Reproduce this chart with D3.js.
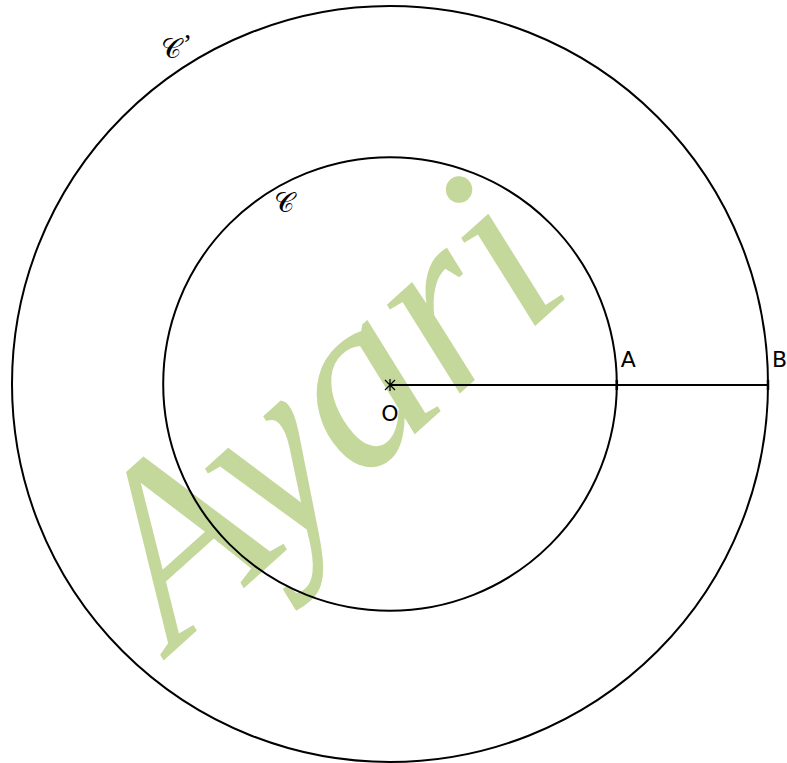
<!DOCTYPE html>
<html>
<head>
<meta charset="utf-8">
<script src="https://cdn.jsdelivr.net/npm/d3@7"></script>
<style>
  body { margin: 0; background: #fff; }
</style>
</head>
<body>
<div id="chart"></div>
<script>
// circles (radius in cm), points on the ray [OB)
var circleNames = ["\u{1D49E}", "\u{1D49E}"];
var circlePrimes = ["", "\u2019"];
var circleRadii = [3, 5];
var labelAngles = [120.2, 123.1];   // degrees, where each circle name sits
var labelRadii = [2.79, 5.31];
var pointNames = ["O", "A", "B"];
var pointPos = [0, 3, 5];

var w = 787,
    h = 763,
    cx = 390,
    cy = 384;

var svg = d3.select("#chart")
  .append("svg")
  .attr("width", w)
  .attr("height", h);

// one unit = one cm on the figure
var r = d3.scaleLinear()
  .domain([0, 5])
  .range([0, 378]);

// watermark
svg.append("text")
  .attr("transform", "translate(375,470) rotate(-42)")
  .attr("text-anchor", "middle")
  .style("font-family", "Liberation Serif")
  .style("font-style", "italic")
  .style("font-size", "250px")
  .style("fill", "#c5d89b")
  .text("Ayari");

var g = svg.append("g")
  .attr("transform", "translate(" + cx + "," + cy + ")");

g.selectAll("circle")
  .data(circleRadii)
  .enter()
  .append("circle")
  .attr("r", function(d) { return r(d); })
  .attr("fill", "none")
  .attr("stroke", "#000")
  .attr("stroke-width", 2);

function lx(i) { return r(labelRadii[i]) * Math.cos(labelAngles[i] * Math.PI / 180); }
function ly(i) { return -r(labelRadii[i]) * Math.sin(labelAngles[i] * Math.PI / 180); }

g.selectAll(".cname")
  .data(circleNames)
  .enter()
  .append("text")
  .attr("class", "cname")
  .attr("x", function(d, i) { return lx(i); })
  .attr("y", function(d, i) { return ly(i); })
  .attr("text-anchor", "middle")
  .attr("dy", "0.35em")
  .style("font-size", "28px")
  .text(function(d) { return d; });

g.selectAll(".cprime")
  .data(circlePrimes)
  .enter()
  .append("text")
  .attr("class", "cprime")
  .attr("x", function(d, i) { return lx(i) + 12; })
  .attr("y", function(d, i) { return ly(i) + 5; })
  .style("font-family", "Liberation Serif")
  .style("font-size", "28px")
  .style("fill", "#000")
  .text(function(d) { return d; });

// segment [OB]
g.append("line")
  .attr("x1", r(pointPos[0]))
  .attr("x2", r(pointPos[2]))
  .attr("y1", 1)
  .attr("y2", 1)
  .attr("stroke", "#000")
  .attr("stroke-width", 2);

// cross at O
g.append("path")
  .attr("d", "M-5,-4L5,6M-5,6L5,-4M0,-5V7")
  .attr("stroke", "#000")
  .attr("stroke-width", 1.3);

// ticks at A and B
g.selectAll(".tick")
  .data(pointPos.slice(1))
  .enter()
  .append("line")
  .attr("class", "tick")
  .attr("x1", function(d) { return r(d); })
  .attr("x2", function(d) { return r(d); })
  .attr("y1", -4)
  .attr("y2", 6)
  .attr("stroke", "#000")
  .attr("stroke-width", 2.5);

g.selectAll(".pname")
  .data(pointNames)
  .enter()
  .append("text")
  .attr("class", "pname")
  .attr("x", function(d, i) { return i === 0 ? r(pointPos[i]) : r(pointPos[i]) + 4; })
  .attr("y", function(d, i) { return i === 0 ? 37 : -17; })
  .attr("text-anchor", function(d, i) { return i === 0 ? "middle" : "start"; })
  .style("font-family", "DejaVu Sans")
  .style("font-size", "22px")
  .text(function(d) { return d; });
</script>
</body>
</html>
